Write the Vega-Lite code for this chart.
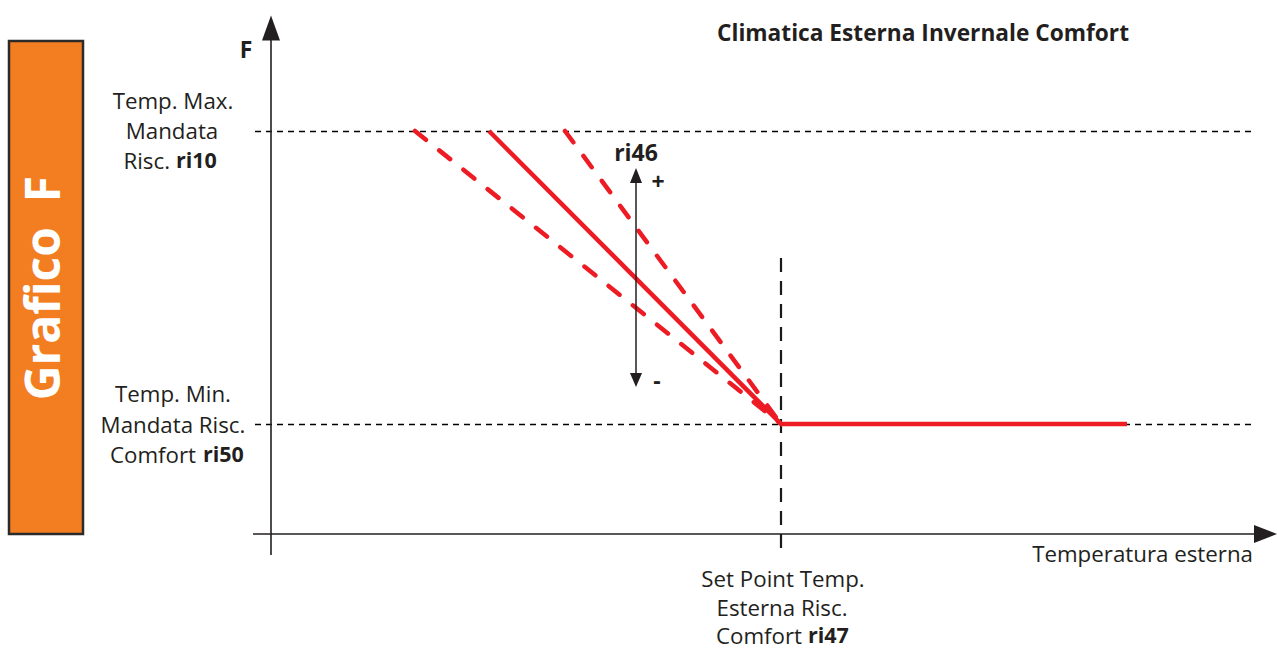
{
  "$schema": "https://vega.github.io/schema/vega-lite/v6.json",
  "width": 1277,
  "height": 651,
  "autosize": {"type": "fit", "contains": "padding"},
  "padding": 0,
  "background": "white",
  "config": {"view": {"stroke": null}, "text": {"font": "Open Sans", "color": "#231f20"}},
  "encoding": {
    "x": {"field": "x", "type": "quantitative", "scale": {"domain": [0, 1277], "nice": false, "zero": false}, "axis": null},
    "y": {"field": "y", "type": "quantitative", "scale": {"domain": [0, 651], "nice": false, "zero": false, "reverse": true}, "axis": null}
  },
  "layer": [
    {
      "data": {"values": [{"x": 9, "x2": 83, "y": 41, "y2": 534}]},
      "mark": {"type": "rect", "fill": "#F37E22", "stroke": "#2b2b2b", "strokeWidth": 2.5},
      "encoding": {"x2": {"field": "x2"}, "y2": {"field": "y2"}}
    },
    {
      "data": {"values": [{"x": 46, "y": 288, "label": "Grafico\u00a0\u00a0F"}]},
      "mark": {"type": "text", "angle": 270, "fontSize": 48, "fontWeight": "bold", "color": "white", "align": "center", "baseline": "middle"},
      "encoding": {"text": {"field": "label"}}
    },
    {
      "data": {"values": [{"x": 255, "x2": 1255, "y": 131.5, "y2": 131.5}, {"x": 255, "x2": 1255, "y": 424.5, "y2": 424.5}]},
      "mark": {"type": "rule", "strokeDash": [6, 5], "strokeWidth": 1.3, "color": "#000000"},
      "encoding": {"x2": {"field": "x2"}, "y2": {"field": "y2"}}
    },
    {
      "data": {"values": [{"x": 781, "x2": 781, "y": 258, "y2": 556}]},
      "mark": {"type": "rule", "strokeDash": [14, 9], "strokeWidth": 2.2, "color": "#1a1a1a"},
      "encoding": {"x2": {"field": "x2"}, "y2": {"field": "y2"}}
    },
    {
      "data": {"values": [{"x": 271, "x2": 271, "y": 555, "y2": 38}, {"x": 253, "x2": 1256, "y": 534, "y2": 534}]},
      "mark": {"type": "rule", "strokeWidth": 1.6, "color": "#231f20"},
      "encoding": {"x2": {"field": "x2"}, "y2": {"field": "y2"}}
    },
    {
      "data": {"values": [{"x": 489, "y": 131, "x2": 781, "y2": 424}, {"x": 781, "y": 424, "x2": 1127, "y2": 424}]},
      "mark": {"type": "rule", "strokeWidth": 4.5, "color": "#ED1C24"},
      "encoding": {"x2": {"field": "x2"}, "y2": {"field": "y2"}}
    },
    {
      "data": {"values": [{"x": 415, "y": 131, "x2": 781, "y2": 424}, {"x": 565, "y": 131, "x2": 781, "y2": 424}]},
      "mark": {"type": "rule", "strokeWidth": 4.5, "color": "#ED1C24", "strokeDash": [14, 17], "strokeCap": "round"},
      "encoding": {"x2": {"field": "x2"}, "y2": {"field": "y2"}}
    },
    {
      "data": {"values": [{"x": 636, "x2": 636, "y": 180, "y2": 376}]},
      "mark": {"type": "rule", "strokeWidth": 1.5, "color": "#231f20"},
      "encoding": {"x2": {"field": "x2"}, "y2": {"field": "y2"}}
    },
    {
      "data": {"values": [{"x": 271, "y": 28}]},
      "mark": {"type": "point", "filled": true, "opacity": 1, "color": "#231f20", "shape": "M0,-1L0.72,1L-0.72,1Z", "size": 625}
    },
    {
      "data": {"values": [{"x": 1265.5, "y": 534}]},
      "mark": {"type": "point", "filled": true, "opacity": 1, "color": "#231f20", "shape": "M1,0L-1,0.78L-1,-0.78Z", "size": 529}
    },
    {
      "data": {"values": [{"x": 636, "y": 175.5}]},
      "mark": {"type": "point", "filled": true, "opacity": 1, "color": "#231f20", "shape": "M0,-1L0.8,1L-0.8,1Z", "size": 225}
    },
    {
      "data": {"values": [{"x": 636, "y": 380}]},
      "mark": {"type": "point", "filled": true, "opacity": 1, "color": "#231f20", "shape": "M0,1L0.86,-1L-0.86,-1Z", "size": 196}
    },
    {
      "data": {"values": [
        {"x": 173, "y": 102, "label": "Temp. Max."},
        {"x": 172, "y": 132, "label": "Mandata"},
        {"x": 173, "y": 395, "label": "Temp. Min."},
        {"x": 173, "y": 426, "label": "Mandata Risc."},
        {"x": 783, "y": 580, "label": "Set Point Temp."},
        {"x": 782, "y": 609, "label": "Esterna Risc."}
      ]},
      "mark": {"type": "text", "fontSize": 22.3, "align": "center", "baseline": "middle"},
      "encoding": {"text": {"field": "label"}}
    },
    {
      "data": {"values": [
        {"x": 170, "y": 162, "label": "Risc."},
        {"x": 196, "y": 456, "label": "Comfort"},
        {"x": 802, "y": 637, "label": "Comfort"},
        {"x": 1253, "y": 555, "label": "Temperatura esterna"}
      ]},
      "mark": {"type": "text", "fontSize": 22.3, "align": "right", "baseline": "middle"},
      "encoding": {"text": {"field": "label"}}
    },
    {
      "data": {"values": [
        {"x": 176, "y": 162, "label": "ri10"},
        {"x": 203, "y": 456, "label": "ri50"},
        {"x": 808, "y": 637, "label": "ri47"}
      ]},
      "mark": {"type": "text", "fontSize": 21.5, "fontWeight": "bold", "align": "left", "baseline": "middle"},
      "encoding": {"text": {"field": "label"}}
    },
    {
      "data": {"values": [
        {"x": 923, "y": 34, "label": "Climatica Esterna Invernale Comfort"}
      ]},
      "mark": {"type": "text", "fontSize": 22.7, "fontWeight": "bold", "align": "center", "baseline": "middle"},
      "encoding": {"text": {"field": "label"}}
    },
    {
      "data": {"values": [
        {"x": 246, "y": 51, "label": "F"},
        {"x": 636, "y": 154, "label": "ri46"},
        {"x": 658, "y": 183, "label": "+"},
        {"x": 657, "y": 382, "label": "-"}
      ]},
      "mark": {"type": "text", "fontSize": 23, "fontWeight": "bold", "align": "center", "baseline": "middle"},
      "encoding": {"text": {"field": "label"}}
    }
  ]
}
